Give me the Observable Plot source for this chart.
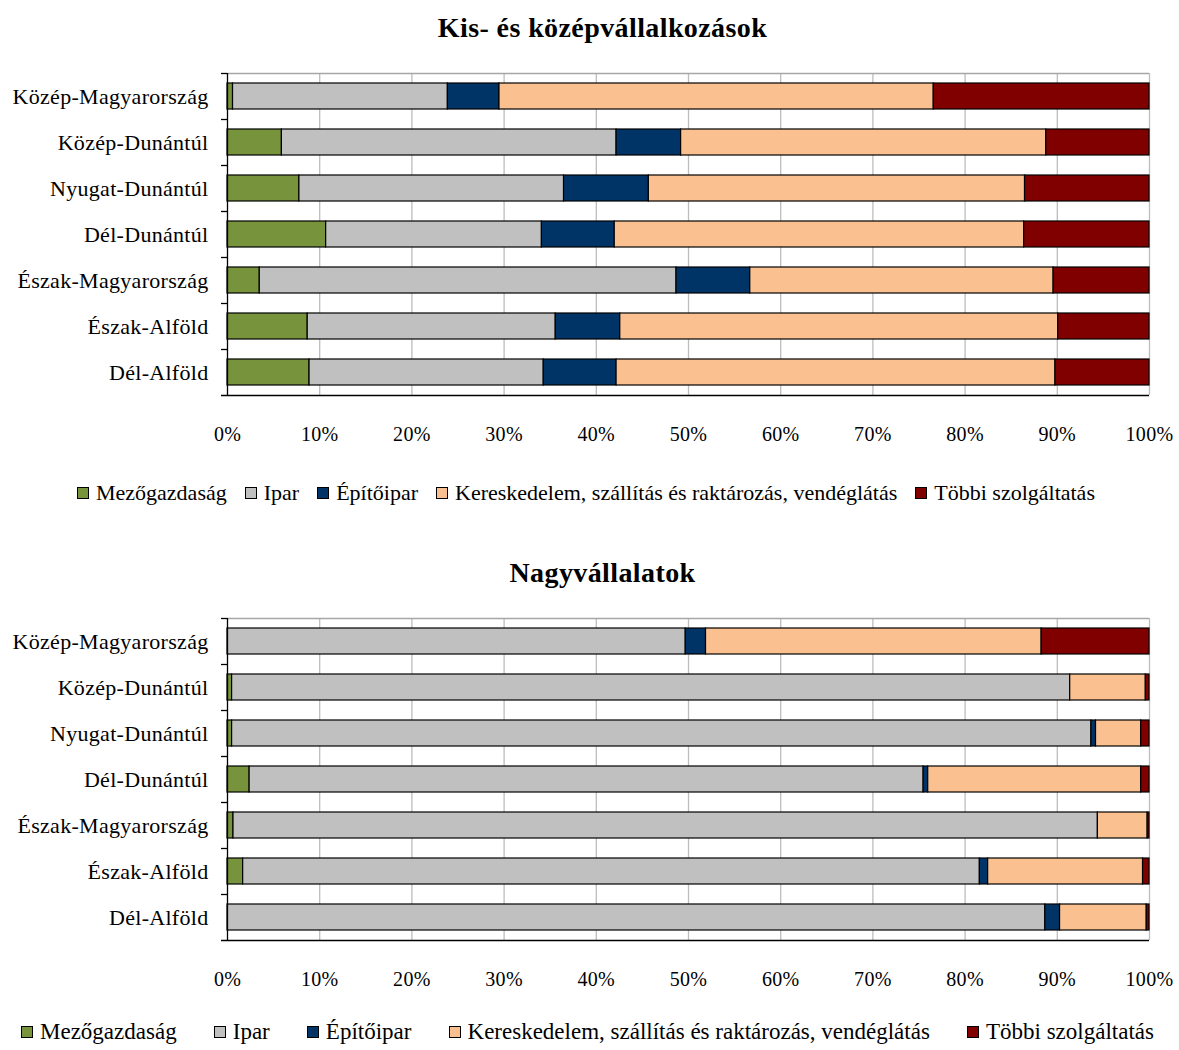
<!DOCTYPE html>
<html>
<head>
<meta charset="utf-8">
<script src="https://cdn.jsdelivr.net/npm/d3@7"></script>
<script src="https://cdn.jsdelivr.net/npm/@observablehq/plot@0.6"></script>
<style>
  body { margin:0; background:#fff; width:1179px; height:1050px; position:relative; font-family:"Liberation Serif", serif; overflow:hidden; color:#000; }
  .title { position:absolute; left:13px; width:1179px; text-align:center; font-family:"Liberation Serif", serif; font-weight:bold; font-size:28px; letter-spacing:0.4px; height:34px; line-height:34px; }
  .chart { position:absolute; left:0; }
  .legend { position:absolute; display:flex; justify-content:space-between; align-items:center; height:28px; line-height:28px; white-space:nowrap; font-family:"Liberation Serif", serif; }
  .legend .sw { display:inline-block; width:10px; height:10px; border:1px solid #000; margin-right:7px; flex:none; }
  .legend .it { display:inline-flex; align-items:center; }
</style>
</head>
<body>
<script>
const regions = ["Közép-Magyarország","Közép-Dunántúl","Nyugat-Dunántúl","Dél-Dunántúl","Észak-Magyarország","Észak-Alföld","Dél-Alföld"];
const sectors = ["Mezőgazdaság","Ipar","Építőipar","Kereskedelem, szállítás és raktározás, vendéglátás","Többi szolgáltatás"];
const sectorColors = ["#77933C","#C0C0C0","#003366","#FAC090","#800000"];
const xTicks = [0,10,20,30,40,50,60,70,80,90,100];

// Kis- és középvállalkozások (% by region)
const kkvMezogazdasag = [0.6,5.9,7.8,10.7,3.5,8.7,8.9];
const kkvIpar         = [23.3,36.3,28.7,23.4,45.2,26.9,25.4];
const kkvEpitoipar    = [5.6,7.0,9.2,7.9,8.0,7.0,7.9];
const kkvKereskedelem = [47.1,39.6,40.8,44.4,32.9,47.5,47.6];
const kkvTobbi        = [23.4,11.2,13.5,13.6,10.4,9.9,10.2];

// Nagyvállalatok (% by region)
const nagyMezogazdasag = [0,0.5,0.5,2.4,0.65,1.7,0];
const nagyIpar         = [49.7,90.9,93.2,73.1,93.75,79.9,88.7];
const nagyEpitoipar    = [2.2,0,0.5,0.5,0,0.9,1.6];
const nagyKereskedelem = [36.4,8.2,4.9,23.1,5.4,16.8,9.4];
const nagyTobbi        = [11.7,0.4,0.9,0.9,0.2,0.7,0.3];

function toRows(series) {
  const rows = [];
  regions.forEach((r, i) => {
    series.forEach((s, j) => rows.push({region: r, sector: sectors[j], value: s[i]}));
  });
  return rows;
}

const STEP = 46;
function makeChart(rows) {
  const plotH = STEP * regions.length;
  return Plot.plot({
    width: 1179,
    height: 23 + plotH + 60,
    marginLeft: 227,
    marginRight: 30,
    marginTop: 23,
    marginBottom: 60,
    style: {fontFamily: '"Liberation Serif", serif', fontSize: "20px", color: "#000", background: "#fff", letterSpacing: "0.3px"},
    x: {domain: [0, 100], ticks: xTicks, tickFormat: d => d + "%", label: null},
    y: {domain: regions, paddingInner: 20/46, paddingOuter: 10/46, label: null},
    color: {domain: sectors, range: sectorColors},
    marks: [
      Plot.ruleX(xTicks.slice(1), {stroke: "#bdbdbd", strokeWidth: 1.3}),
      Plot.ruleY([regions[0]], {y: d => d, x1: 0, x2: 100, dy: -STEP/2, stroke: "#a6a6a6", strokeWidth: 1.3}),
      Plot.barX(rows, Plot.stackX({x: "value", y: "region", fill: "sector", order: sectors, stroke: "#000", strokeWidth: 1.2})),
      Plot.ruleX([0], {stroke: "#000", strokeWidth: 1.3}),
      Plot.ruleY(regions, {y: d => d, x1: -0.65, x2: 0, dy: -STEP/2, stroke: "#000", strokeWidth: 1.3}),
      Plot.ruleY([regions[regions.length-1]], {y: d => d, x1: -0.65, x2: 100, dy: STEP/2, stroke: "#000", strokeWidth: 1.3}),
      Plot.axisX({ticks: xTicks, tickFormat: d => d + "%", tickSize: 0, tickPadding: 31, fontSize: 20, anchor: "bottom"}),
      Plot.tickX(xTicks, {x: d => d, y: regions[regions.length-1], dy: STEP/2 + 3, stroke: "#000", strokeWidth: 1.3, inset: 0}),
      Plot.axisY({tickSize: 0, tickPadding: 19, fontSize: 22, anchor: "left"})
    ]
  });
}

function addTitle(text, cy) {
  const d = document.createElement("div");
  d.className = "title";
  d.style.top = (cy - 17) + "px";
  d.textContent = text;
  document.body.appendChild(d);
}
function addChart(svg, top) {
  const w = document.createElement("div");
  w.className = "chart";
  w.style.top = top + "px";
  w.appendChild(svg);
  document.body.appendChild(w);
}
function addLegend(cy, left, width, fontSize) {
  const d = document.createElement("div");
  d.className = "legend";
  d.style.top = (cy - 14) + "px";
  d.style.left = left + "px";
  d.style.width = width + "px";
  d.style.fontSize = fontSize + "px";
  sectors.forEach((s, i) => {
    const it = document.createElement("span");
    it.className = "it";
    const sw = document.createElement("span");
    sw.className = "sw";
    sw.style.background = sectorColors[i];
    it.appendChild(sw);
    const t = document.createElement("span");
    t.textContent = s;
    it.appendChild(t);
    d.appendChild(it);
  });
  document.body.appendChild(d);
}

addTitle("Kis- és középvállalkozások", 28);
addChart(makeChart(toRows([kkvMezogazdasag, kkvIpar, kkvEpitoipar, kkvKereskedelem, kkvTobbi])), 50);
addLegend(493, 77, 1018, 22);

addTitle("Nagyvállalatok", 573);
addChart(makeChart(toRows([nagyMezogazdasag, nagyIpar, nagyEpitoipar, nagyKereskedelem, nagyTobbi])), 595);
addLegend(1032, 21, 1133, 23);
</script>
</body>
</html>
